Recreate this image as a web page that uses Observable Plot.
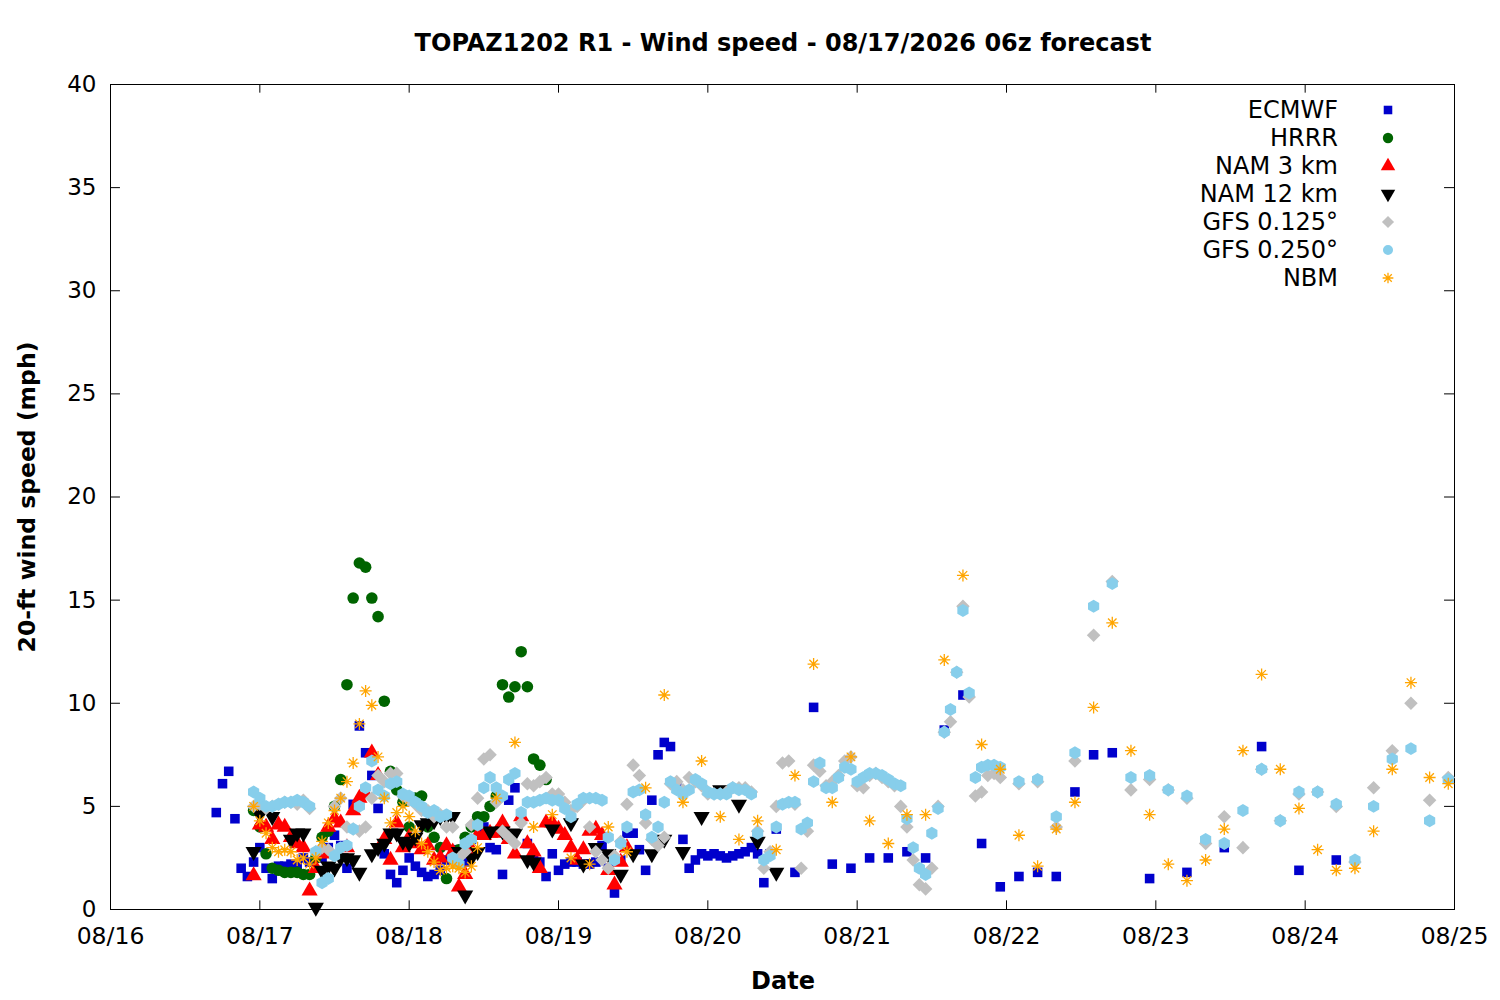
<!DOCTYPE html>
<html><head><meta charset="utf-8">
<script src="https://cdn.jsdelivr.net/npm/d3@7"></script>
<script src="https://cdn.jsdelivr.net/npm/@observablehq/plot@0.6"></script>
<style>body{margin:0;background:#fff}svg{font-family:"DejaVu Sans",sans-serif}</style>
</head><body><div id="chart"></div>
<script>
const base = Date.UTC(2026,7,16);
const xTicks = ["08/16","08/17","08/18","08/19","08/20","08/21","08/22","08/23","08/24","08/25"];
const yTicks = [0,5,10,15,20,25,30,35,40];
const names = ["ECMWF","HRRR","NAM 3 km","NAM 12 km","GFS 0.125°","GFS 0.250°","NBM"];
const colors = ["#0000cc","#006400","#ff0000","#000000","#c0c0c0","#87ceeb","#ffa500"];

const ecmwfHours = d3.range(17,108).concat([110,113,116,119,122,125,128,131,134,137,140,143,146,149,152,155,158,161,167,173,179,185,191,197]);
const ecmwfValues = [4.7,6.1,6.7,4.4,2.0,1.6,2.3,3.0,2.0,1.5,2.1,2.1,2.2,2.1,2.5,2.3,2.6,2.5,3.0,3.6,3.1,2.0,5.1,8.9,7.6,6.5,4.9,2.7,1.7,1.3,1.9,2.5,2.1,1.8,1.6,1.7,1.9,2.4,2.9,2.4,2.3,3.4,4.0,4.0,3.0,2.9,1.7,5.3,5.9,4.6,3.2,2.4,2.3,1.6,2.7,1.9,2.2,2.3,2.3,2.2,2.2,2.3,3.1,2.0,0.8,2.4,3.7,3.7,2.9,1.9,5.3,7.5,8.1,7.9,6.0,3.4,2.0,2.4,2.7,2.6,2.7,2.6,2.5,2.6,2.7,2.8,3.0,2.7,1.3,2.7,3.9,
 1.8,9.8,2.2,2.0,2.5,2.5,2.8,2.5,8.7,10.4,3.2,1.1,1.6,1.8,1.6,5.7,7.5,7.6,1.5,1.8,3.0,7.9,1.9,2.4];

const hrrrHours = d3.range(23,71);
const hrrrValues = [4.8,4.0,2.7,2.0,1.9,1.8,1.8,1.8,1.7,1.7,2.5,3.5,3.8,5.0,6.3,10.9,15.1,16.8,16.6,15.1,14.2,10.1,6.7,5.8,5.2,4.0,5.4,5.5,4.0,3.5,3.0,1.5,2.5,2.9,3.5,4.0,4.5,4.5,5.0,5.5,10.9,10.3,10.8,12.5,10.8,7.3,7.0,6.3];

const nam3Hours = d3.range(23,84);
const nam3Values = [1.65,4.1,4.0,3.4,4.1,4.0,3.5,3.2,3.0,0.9,2.0,2.7,4.0,4.4,4.2,3.0,4.8,5.4,5.6,7.6,6.5,3.4,2.4,4.2,3.0,3.5,3.2,2.9,3.1,2.4,2.5,3.1,2.8,1.1,1.7,2.9,3.6,3.6,3.7,3.7,4.2,3.4,2.7,4.5,3.2,2.8,2.0,4.2,4.2,3.9,3.6,3.0,2.4,2.9,3.8,3.9,3.6,1.9,1.2,2.3,3.0];

const nam12Hours = [23,24,26,29,30,31,33,34,35,36,37,38,39,40,42,43,44,45,46,47,48,49,50,51,52,53,54,55,56,57,58,59,61,63,65,67,68,71,74,76,78,80,82,84,87,89,92,95,98,101,104,107];
const nam12Values = [2.8,4.6,4.5,3.4,3.7,3.7,0.1,1.9,2.1,2.0,2.5,2.5,2.4,1.8,2.7,3.0,3.2,3.7,3.7,3.3,3.2,3.5,4.1,4.2,4.3,4.5,4.5,4.5,2.8,0.7,2.5,2.8,3.8,3.8,3.7,2.4,2.3,3.9,4.2,2.2,3.0,2.7,1.7,2.7,
 2.7,3.4,2.8,4.5,5.8,5.1,3.3,1.8];

const gfs125Hours = d3.range(23,144).concat([146,149,152,155,158,161,164,167,170,173,176,179,182,185,188,191,194,197,200,203,206,209,212,215]);
const gfs125Values = [5.0,5.1,4.9,5.0,5.1,5.2,5.2,5.1,5.3,4.9,2.8,3.0,2.9,5.0,5.4,4.0,3.9,3.8,4.0,5.4,6.5,6.2,6.6,6.6,5.5,5.3,5.1,4.8,4.8,4.5,4.6,4.0,
 4.0,2.5,2.8,4.1,5.4,7.3,7.5,5.2,3.8,3.5,3.2,4.2,6.1,6.0,6.2,6.4,5.6,
 5.6,5.2,4.8,5.0,5.3,4.0,2.8,2.4,2.0,2.6,3.3,5.1,7.0,6.5,4.2,3.4,3.1,3.5,6.1,6.2,5.8,6.4,6.2,6.0,5.6,5.6,5.6,5.7,5.9,5.9,5.9,5.7,3.8,2.0,2.8,5.0,7.1,7.2,5.1,2.0,3.8,7.0,6.7,6.0,6.2,6.5,7.2,7.4,6.0,5.9,6.5,6.6,6.4,6.2,6.0,5.0,4.0,2.4,1.2,1.0,2.0,5.0,8.6,9.1,11.5,14.7,10.3,5.5,5.7,6.5,6.6,6.4,
 6.1,6.2,4.0,7.2,13.3,15.9,5.8,6.3,5.8,5.4,3.2,4.5,3.0,6.8,4.3,5.6,5.7,5.0,2.3,5.9,7.7,10.0,5.3,6.4];

const gfs250Hours = d3.range(23,144).concat([146,149,152,155,158,161,164,167,170,173,176,179,182,185,188,191,194,197,200,203,206,209,212,215]);
const gfs250Values = [5.7,5.4,5.0,5.0,5.1,5.2,5.2,5.3,5.2,5.0,2.8,1.3,1.5,2.6,3.0,3.1,3.9,5.0,5.9,7.2,5.8,5.5,6.1,6.2,5.6,5.5,5.2,5.0,4.7,4.8,4.5,4.6,2.5,2.2,3.2,3.4,4.1,5.9,6.4,5.9,5.5,6.3,6.6,4.7,5.2,5.2,5.3,5.4,5.3,5.3,4.9,4.5,5.1,5.4,5.4,5.4,5.3,3.5,2.4,3.2,4.0,5.7,5.8,4.6,3.5,4.0,5.2,6.2,5.8,5.6,5.8,6.3,6.1,5.7,5.6,5.6,5.6,5.9,5.8,5.8,5.6,3.7,2.4,2.6,4.0,5.1,5.2,5.2,3.9,4.2,6.2,7.1,5.9,5.9,6.4,6.9,6.8,6.2,6.4,6.6,6.6,6.5,6.3,6.1,6.0,4.4,3.0,2.0,1.7,3.7,4.9,8.6,9.7,11.5,14.5,10.5,6.4,6.9,7.0,7.0,6.9,
 6.2,6.3,4.5,7.6,14.7,15.8,6.4,6.5,5.8,5.5,3.4,3.2,4.8,6.8,4.3,5.7,5.7,5.1,2.4,5.0,7.3,7.8,4.3,6.3];

const nbmHours = d3.range(23,60).concat([62,65,68,71,74,77,80,83,86,89,92,95,98,101,104,107,110,113,116,119,122,125,128,131,134,137,140,143,146,149,152,155,158,161,164,167,170,173,176,179,182,185,188,191,194,197,200,203,206,209,212,215]);
const nbmValues = [5.0,4.3,3.7,3.0,2.8,2.9,2.8,2.4,2.5,2.2,2.5,3.3,4.2,4.8,5.4,6.2,7.1,9.0,10.6,9.9,7.4,5.4,4.2,4.7,5.0,4.5,3.8,3.2,2.8,2.3,1.9,2.0,2.1,2.0,1.8,2.1,3.0,
 5.4,8.1,4.0,4.6,2.5,2.2,4.0,2.8,5.9,10.4,5.2,7.2,4.5,3.4,4.3,2.9,6.5,11.9,5.2,7.4,4.3,3.2,4.6,4.6,12.1,16.2,8.0,6.8,3.6,2.1,3.9,5.2,9.8,13.9,7.7,4.6,2.2,1.4,2.4,3.9,7.7,11.4,6.8,4.9,2.9,1.9,2.0,3.8,6.8,11.0,6.4,6.1];

const series = [[ecmwfHours,ecmwfValues],[hrrrHours,hrrrValues],[nam3Hours,nam3Values],[nam12Hours,nam12Values],[gfs125Hours,gfs125Values],[gfs250Hours,gfs250Values],[nbmHours,nbmValues]];
const T = h => new Date(base + h*3600e3);
const rows = series.map(([hs,vs],i)=>hs.map((h,j)=>({t:T(h),v:vs[j],m:names[i]})).filter(d=>d.v!=null));

const invTri = {draw(ctx,size){const a=Math.sqrt(size*4/Math.sqrt(3)),y=a*Math.sqrt(3)/2;ctx.moveTo(-a/2,-y/3);ctx.lineTo(a/2,-y/3);ctx.lineTo(0,2*y/3);ctx.closePath();}};
const diam = {draw(ctx,size){const d=Math.sqrt(size/2);ctx.moveTo(0,-d);ctx.lineTo(d,0);ctx.lineTo(0,d);ctx.lineTo(-d,0);ctx.closePath();}};
const star8 = {draw(ctx,size){const r=Math.sqrt(size/Math.PI),q=r*Math.SQRT1_2;ctx.moveTo(-r,0);ctx.lineTo(r,0);ctx.moveTo(0,-r);ctx.lineTo(0,r);ctx.moveTo(-q,-q);ctx.lineTo(q,q);ctx.moveTo(-q,q);ctx.lineTo(q,-q);}};
const syms = [d3.symbolSquare,d3.symbolCircle,d3.symbolTriangle,invTri,diam,d3.symbolCircle,star8];
const plotSyms = ["square","circle","triangle",invTri,diam,"hexagon",star8];
const rs = [5.4,5.8,6.0,6.0,5.4,5.6,6.0];

const x0 = new Date(base), x1 = T(216);
const tickDates = xTicks.map((_,i)=>T(i*24));
const dx = 1.6*3600e3;

const marks = [Plot.frame({stroke:"black"})];
rows.forEach((r,i)=>{
  if(i===6) marks.push(Plot.dot(r,{x:"t",y:"v",symbol:plotSyms[i],r:rs[i],stroke:colors[i],strokeWidth:1.3,fill:"none"}));
  else marks.push(Plot.dot(r,{x:"t",y:"v",symbol:plotSyms[i],r:rs[i],fill:colors[i],stroke:"none"}));
});
marks.push(
  Plot.ruleY(yTicks.slice(1,-1),{x1:x0,x2:new Date(+x0+dx),stroke:"black"}),
  Plot.ruleY(yTicks.slice(1,-1),{x1:new Date(+x1-dx),x2:x1,stroke:"black"}),
  Plot.ruleX(tickDates.slice(1,-1),{y1:0,y2:0.42,stroke:"black"}),
  Plot.ruleX(tickDates.slice(1,-1),{y1:39.58,y2:40,stroke:"black"}),
  Plot.axisY(yTicks,{tickSize:0,tickPadding:14,fontSize:23,label:null}),
  Plot.axisX(tickDates,{tickSize:0,tickPadding:18,fontSize:23.5,label:null,tickFormat:(d,i)=>xTicks[i]})
);

const chart = Plot.plot({
  width:1500,height:1000,marginLeft:110,marginRight:46,marginTop:84,marginBottom:91,
  style:{fontFamily:"DejaVu Sans",fontSize:"23px",color:"black"},
  x:{type:"utc",domain:[x0,x1]},
  y:{domain:[0,40]},
  marks
});
document.getElementById("chart").appendChild(chart);
const svg = d3.select(chart);
svg.append("text").attr("x",783).attr("y",51).attr("text-anchor","middle").attr("font-weight","bold").attr("font-size",24).text("TOPAZ1202 R1 - Wind speed - 08/17/2026 06z forecast");
svg.append("text").attr("x",783).attr("y",989).attr("text-anchor","middle").attr("font-weight","bold").attr("font-size",24).text("Date");
svg.append("text").attr("transform","translate(35,497) rotate(-90)").attr("text-anchor","middle").attr("font-weight","bold").attr("font-size",23.5).text("20-ft wind speed (mph)");
const lg = svg.append("g");
names.forEach((n,i)=>{
  const y = 110 + i*28;
  lg.append("text").attr("x",1338).attr("y",y).attr("dy","0.35em").attr("text-anchor","end").attr("font-size",24).text(n);
  const p = lg.append("path").attr("transform",`translate(1388,${y})`).attr("d",d3.symbol(syms[i], Math.PI*rs[i]*rs[i]*0.8)());
  if(i===6) p.attr("fill","none").attr("stroke",colors[i]).attr("stroke-width",1.3); else p.attr("fill",colors[i]);
});
</script></body></html>
